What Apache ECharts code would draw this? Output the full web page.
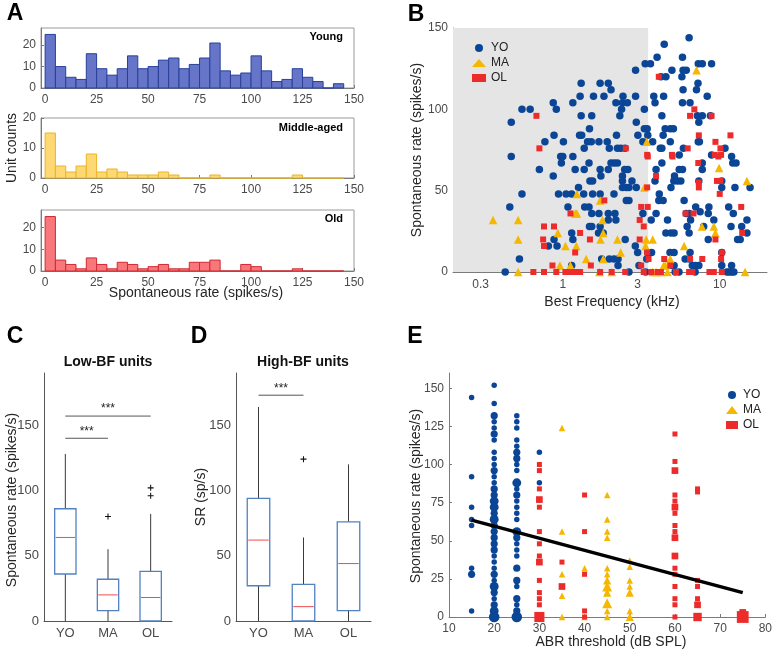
<!DOCTYPE html>
<html><head><meta charset="utf-8">
<script src="https://cdn.jsdelivr.net/npm/echarts@6/dist/echarts.min.js"></script>
<style>html,body{margin:0;padding:0;background:#fff}#c{width:775px;height:656px}</style>
</head><body><div id="c"></div>
<script>
// ---------------- DATA ----------------
// Panel A: histograms of spontaneous rate (5 spikes/s bins)
const binWidth = 5;
const binStarts = [0,5,10,15,20,25,30,35,40,45,50,55,60,65,70,75,80,85,90,95,100,105,110,115,120,125,130,135,140];
const youngCounts  = [25,10,5,4,16,9,6,9,15,9,10,13,14,9,11,14,21,8,6,7,15,8,3,4,9,5,3,0,2];
const middleCounts = [15,4,2,4,8,2,3,2,1,1,1,2,1,0,0,0,1,0,0,0,0,0,0,0,1,0,0,0,0];
const oldCounts    = [25,5,3,1,6,3,1,4,3,1,2,3,1,1,4,4,5,0,0,3,2,0,0,0,1,0,0,0,0];
const rateTicks = [0,25,50,75,100,125,150];

// Panel B: best frequency (kHz) vs spontaneous rate (spikes/s)
const bfTicks = [0.3,1,3,10];
const lowBFRange = [0.2, 3.5];
const bfYO = [[0.47,92],[0.55,100],[0.62,100],[0.87,104],[0.91,100],[0.77,80],[0.88,84],[1.01,80],[1.16,104],[1.29,108],[1.31,116],[1.31,96],[1.28,84],[1.32,84],[1.48,88],[1.44,80],[1.52,80],[1.37,76],[1.57,108],[1.53,96],[1.73,116],[1.83,108],[1.95,116],[2.03,112],[1.70,80],[1.92,80],[1.98,76],[2.18,104],[2.42,108],[2.40,104],[2.58,104],[2.37,100],[2.31,96],[2.20,84],[2.23,76],[2.34,76],[2.49,76],[2.91,124],[2.91,108],[2.94,92],[3.01,84],[3.31,100],[3.35,128],[3.31,88],[3.45,88],[3.24,80],[3.48,84],[3.62,128],[3.74,80],[3.99,132],[4.22,120],[3.80,108],[3.87,104],[4.43,140],[4.39,108],[4.28,96],[4.36,84],[4.49,88],[4.54,120],[4.96,124],[4.84,88],[5.07,88],[4.84,80],[4.18,76],[4.28,76],[5.52,72],[5.74,120],[5.79,132],[5.84,124],[6.12,124],[5.84,112],[5.79,104],[6.47,104],[6.38,144],[5.87,76],[7.30,128],[7.74,128],[7.11,112],[7.27,116],[7.20,96],[7.36,92],[7.74,96],[7.30,80],[7.42,80],[8.87,128],[8.32,108],[8.72,96],[8.87,72],[10.8,76],
[0.47,71],[0.71,63],[0.87,59],[0.97,71],[1.0,71],[0.98,67],[1.16,71],[1.2,63],[1.37,63],[1.47,67],[1.49,56],[1.55,56],[1.75,59],[1.73,63],[2.03,67],[2.13,67],[2.23,67],[1.95,63],[2.40,59],[2.48,63],[2.60,63],[2.40,56],[2.40,52],[2.54,52],[2.64,52],[2.76,56],[2.94,52],[2.54,44],[2.64,44],[1.26,52],[0.94,48],[1.05,48],[1.14,48],[1.36,48],[1.55,48],[1.73,48],[2.12,48],[0.55,48],[0.46,40],[1.08,40],[1.38,40],[1.47,40],[1.53,36],[1.70,36],[1.95,36],[2.15,36],[1.95,32],[2.18,32],[1.48,28],[1.53,28],[1.73,28],[1.14,24],[1.69,24],[1.81,24],[1.16,20],[0.88,20],[0.81,16],[0.92,16],[0.53,8],[0.43,0],[1.14,4],[1.77,8],[1.98,8],[2.12,8],[2.25,8],[2.25,4],[2.50,20],[2.90,16],[3.0,12],[3.06,4],[2.64,0],[3.37,0],[3.43,8],[3.48,12],[3.68,12],[3.66,32],[3.24,36],[3.87,56],[4.12,48],[4.09,44],[4.36,44],[3.93,63],[4.28,67],[3.93,36],[4.54,24],[4.65,32],[4.89,52],[5.1,56],[5.38,56],[5.65,56],[5.15,59],[5.52,63],[5.79,63],[4.89,24],[5.12,24],[4.82,12],[5.12,12],[4.96,4],[5.12,4],[5.5,0],[5.2,0],[5.93,44],[6.12,36],[6.38,36],[6.38,24],[6.2,28],[6.52,32],[6.02,8],[6.38,8],[6.47,12],[6.69,4],[7.0,4],[6.97,0],[7.36,4],[7.03,40],[7.5,37],[7.74,67],[7.74,63],[7.36,56],[7.9,28],[8.53,40],[8.45,36],[8.45,20],[9.17,32],[10.3,56],[10.3,52],[10.3,12],[10.3,4],[11.1,0],[11.5,0],[11.9,0],[12.3,0],[11.9,4],[11.4,40],[11.8,28],[12.1,67],[12.7,67],[12.5,52],[12.2,36],[13.0,20],[13.5,20],[13.8,28],[14.9,32],[14.9,24],[15.6,52],[11.9,71]];
const bfMA = [[7.11,124],[3.43,80],[0.36,32],[0.52,32],[0.52,20],[0.52,0],[0.93,24],[1.04,16],[0.96,4],[1.12,4],[1.23,48],[1.2,36],[1.23,36],[1.22,16],[1.41,8],[1.73,44],[1.79,32],[1.81,24],[1.74,20],[1.81,8],[1.71,0],[2.05,0],[2.23,20],[2.34,12],[3.31,52],[3.40,20],[3.74,20],[3.37,16],[3.74,0],[3.93,0],[4.22,0],[4.39,4],[4.5,4],[4.84,8],[4.65,0],[5.93,16],[7.7,28],[9.17,28],[9.39,24],[9.9,64],[14.5,0],[14.9,56]];
const bfOL = [[0.68,96],[0.71,76],[2.52,76],[3.45,72],[4.09,120],[4.96,72],[6.25,76],[6.89,100],[6.47,96],[7.36,84],[8.87,96],[9.39,80],[10.1,76],[11.7,84],[9.3,72],[10.2,72],
[0.76,28],[0.88,28],[0.75,20],[0.76,16],[0.65,0],[0.76,0],[0.86,4],[0.91,0],[1.04,0],[1.08,0],[1.14,0],[1.23,0],[1.29,0],[1.12,36],[1.2,12],[1.29,24],[1.49,20],[1.51,4],[1.73,0],[1.84,44],[2.05,0],[2.5,0],[3.09,20],[3.09,32],[3.16,40],[3.48,40],[3.28,28],[3.45,52],[3.48,71],[3.16,4],[3.28,0],[3.45,12],[3.52,8],[3.66,0],[4.02,0],[4.22,0],[3.93,59],[4.43,8],[4.84,4],[5.0,71],[5.26,0],[6.06,36],[6.81,36],[6.47,8],[6.38,0],[6.69,0],[7.36,52],[7.36,55],[7.30,67],[7.74,8],[8.6,0],[9.17,0],[9.39,20],[9.6,56],[10.1,56],[10.0,48],[10.3,12],[10.2,8],[10.3,0],[13.7,40],[13.9,24],[9.8,71]];

// Panels C, D: box plot statistics [min, Q1, median, Q3, max]
const groups = ['YO','MA','OL'];
const lowBFStats  = [[0,36,64,86,128],[0,8,20,32,55],[0,0,18,38,82]];
const lowBFOutliers = [[1,80],[2,96],[2,102]];
const lowBFSig = [[0,1,140],[0,2,157]];
const highBFStats = [[0,27,62,94,164],[0,0,11,28,64],[0,8,44,76,120]];
const highBFOutliers = [[1,124]];
const highBFSig = [[0,1,173]];
const srTicks = [0,50,100,150];

// Panel E: ABR threshold (dB SPL) vs spontaneous rate, [threshold, rate, n units]
const abrYO = [[15,144,1],[15,92,1],[15,72,1],[15,64,1],[15,60,1],[15,32,1],[15,28,2],[15,4,1],
[20,152,1],[20,140,1],[20,132,2],[20,128,1],[20,124,1],[20,120,2],[20,116,1],[20,108,1],[20,104,1],[20,100,1],[20,96,2],[20,92,1],[20,88,1],[20,84,2],[20,80,2],[20,76,3],[20,72,3],[20,68,2],[20,64,3],[20,60,2],[20,56,2],[20,52,2],[20,48,2],[20,44,2],[20,40,1],[20,36,1],[20,32,1],[20,28,2],[20,24,1],[20,20,3],[20,16,2],[20,12,1],[20,8,2],[20,4,3],[20,0,4],
[25,132,1],[25,128,1],[25,124,1],[25,116,1],[25,112,1],[25,108,2],[25,104,2],[25,100,1],[25,96,1],[25,88,3],[25,84,1],[25,80,2],[25,76,1],[25,72,1],[25,68,1],[25,64,1],[25,56,3],[25,52,2],[25,48,1],[25,44,1],[25,40,1],[25,32,2],[25,24,2],[25,20,1],[25,12,2],[25,8,1],[25,4,2],[25,0,4],
[30,108,1],[30,88,1]];
const abrMA = [[35,124,1],[35,56,1],[35,28,1],[35,14,1],[35,0,1],[40,32,1],[40,0,1],[45,80,1],[45,64,1],[45,56,1],[45,52,1],[45,32,1],[45,28,1],[45,24,2],[45,20,3],[45,16,2],[45,9,3],[45,4,1],[45,0,1],[50,37,1],[50,33,1],[50,24,1],[50,20,1],[50,16,2],[50,4,1],[50,0,2]];
const abrOL = [[30,100,1],[30,96,1],[30,84,1],[30,77,2],[30,72,1],[30,56,1],[30,48,1],[30,40,1],[30,36,2],[30,24,1],[30,16,1],[30,12,1],[30,8,1],[30,0,4],[35,36,1],[35,20,2],[40,80,1],[40,56,1],[40,28,1],[40,4,1],[40,0,1],[60,120,1],[60,102,1],[60,96,2],[60,80,1],[60,76,1],[60,72,2],[60,68,1],[60,60,1],[60,56,1],[60,52,2],[60,40,2],[60,32,1],[60,28,1],[60,20,1],[60,12,1],[60,8,1],[60,0,1],[65,84,1],[65,82,1],[65,24,1],[65,20,1],[65,12,1],[65,8,2],[65,0,3],[75,3,2],[75,0,5]];
const abrFit = [[15,63.5],[75,16]];
const abrTicks = [0,25,50,75,100,125,150];

// ---------------- STYLE ----------------
const FONT = '"Liberation Sans", Arial, Helvetica, sans-serif';
const TICK = '#4a4a4a', TITLE = '#262626';
const cYO = '#0b4596', cMA = '#f5b700', cOL = '#ee2b2b';

const chart = echarts.init(document.getElementById('c'));

function valAxis(gi, o) {
  return Object.assign({
    gridIndex: gi, type: 'value',
    axisLine: {show: true, onZero: false, lineStyle: {color: '#7a7a7a', width: 1}},
    axisTick: {show: true, inside: true, length: 3, lineStyle: {color: '#7a7a7a'}},
    axisLabel: {fontSize: 12, color: TICK, fontFamily: FONT, margin: 5},
    splitLine: {show: false}
  }, o);
}
function histSeries(gi, counts, fill, stroke) {
  return {
    type: 'custom', xAxisIndex: gi, yAxisIndex: gi, silent: true,
    data: binStarts.map((s, i) => [s, counts[i]]),
    renderItem(p, api) {
      const s = api.value(0), c = api.value(1);
      const a = api.coord([s, c]), b = api.coord([s + binWidth, 0]);
      return {type: 'rect', shape: {x: a[0], y: a[1], width: b[0] - a[0], height: b[1] - a[1]},
        style: {fill: fill, stroke: stroke, lineWidth: 1}};
    }
  };
}
function boxSeries(gi, stats) {
  return {
    type: 'custom', xAxisIndex: gi, yAxisIndex: gi, silent: true,
    data: stats.map((s, i) => [i].concat(s)),
    renderItem(p, api) {
      const i = api.value(0);
      const bw = api.size([1, 0])[0] * 0.5;
      const lo = api.coord([i, api.value(1)]), q1 = api.coord([i, api.value(2)]),
            md = api.coord([i, api.value(3)]), q3 = api.coord([i, api.value(4)]),
            hi = api.coord([i, api.value(5)]);
      const cx = lo[0];
      return {type: 'group', children: [
        {type: 'line', shape: {x1: cx, y1: lo[1], x2: cx, y2: q1[1]}, style: {stroke: '#3a3a3a', lineWidth: 1}},
        {type: 'line', shape: {x1: cx, y1: q3[1], x2: cx, y2: hi[1]}, style: {stroke: '#3a3a3a', lineWidth: 1}},
        {type: 'rect', shape: {x: cx - bw / 2, y: q3[1], width: bw, height: q1[1] - q3[1]},
          style: {fill: 'none', stroke: '#5281c2', lineWidth: 1.3}},
        {type: 'line', shape: {x1: cx - bw / 2 + 1, y1: md[1], x2: cx + bw / 2 - 1, y2: md[1]},
          style: {stroke: '#f04a4a', lineWidth: 1}}
      ]};
    }
  };
}
function sigSeries(gi, sig) {
  return {
    type: 'custom', xAxisIndex: gi, yAxisIndex: gi, silent: true, data: sig,
    renderItem(p, api) {
      const a = api.coord([api.value(0), api.value(2)]), b = api.coord([api.value(1), api.value(2)]);
      return {type: 'group', children: [
        {type: 'line', shape: {x1: a[0], y1: a[1], x2: b[0], y2: b[1]}, style: {stroke: '#555', lineWidth: 1}},
        {type: 'text', x: (a[0] + b[0]) / 2, y: a[1] - 1,
          style: {text: '***', align: 'center', verticalAlign: 'bottom', fontSize: 12, fill: '#222', fontFamily: FONT}}
      ]};
    }
  };
}
const plusPath = 'path://M3.3,0H4.7V8H3.3ZM0,3.3H8V4.7H0Z';
function outlierSeries(gi, pts) {
  return {type: 'scatter', xAxisIndex: gi, yAxisIndex: gi, silent: true, data: pts,
    symbol: plusPath, symbolSize: 6, itemStyle: {color: '#111', opacity: 1}};
}
function txt(x, y, text, o) {
  return {type: 'text', x: x, y: y, rotation: (o && o.rot) || 0,
    style: Object.assign({text: text, fontFamily: FONT, fontSize: 14, fill: TITLE,
      align: 'center', verticalAlign: 'middle'}, (o && o.style) || {})};
}
const letter = {fontSize: 23, fontWeight: 'bold', fill: '#000'};
const subLbl = {fontSize: 11, fontWeight: 'bold', fill: '#000', align: 'right'};

const gridA = {show: true, borderColor: '#9a9a9a', borderWidth: 1, backgroundColor: 'transparent'};
const sizeOf = v => 5.5 + (v[2] - 1) * 1.7;

const option = {
  animation: false,
  textStyle: {fontFamily: FONT},
  grid: [
    Object.assign({left: 41, top: 28, width: 313, height: 60}, gridA),
    Object.assign({left: 41, top: 118, width: 313, height: 60}, gridA),
    Object.assign({left: 41, top: 210, width: 313, height: 61}, gridA),
    {left: 453, top: 28, width: 314, height: 244},
    {left: 44, top: 373, width: 128, height: 248},
    {left: 236, top: 373, width: 135, height: 248},
    {left: 449, top: 373, width: 318, height: 244}
  ],
  xAxis: [
    valAxis(0, {min: -2, max: 150, axisTick: {inside: true, length: 3, customValues: rateTicks, lineStyle: {color: '#7a7a7a'}}, axisLabel: {customValues: rateTicks, fontSize: 12, color: TICK, fontFamily: FONT, margin: 6}}),
    valAxis(1, {min: -2, max: 150, axisTick: {inside: true, length: 3, customValues: rateTicks, lineStyle: {color: '#7a7a7a'}}, axisLabel: {customValues: rateTicks, fontSize: 12, color: TICK, fontFamily: FONT, margin: 6}}),
    valAxis(2, {min: -2, max: 150, axisTick: {inside: true, length: 3, customValues: rateTicks, lineStyle: {color: '#7a7a7a'}}, axisLabel: {customValues: rateTicks, fontSize: 12, color: TICK, fontFamily: FONT, margin: 6}}),
    valAxis(3, {type: 'log', logBase: 10, min: 0.2, max: 20,
      axisTick: {inside: true, length: 3, customValues: bfTicks, lineStyle: {color: '#7a7a7a'}},
      axisLabel: {customValues: bfTicks, fontSize: 12, color: TICK, fontFamily: FONT, margin: 7},
      minorTick: {show: false}}),
    {gridIndex: 4, type: 'category', data: groups, boundaryGap: true,
      axisLine: {show: true, lineStyle: {color: '#555'}}, axisTick: {show: false},
      axisLabel: {fontSize: 13, color: TICK, fontFamily: FONT, margin: 6}},
    {gridIndex: 5, type: 'category', data: groups, boundaryGap: true,
      axisLine: {show: true, lineStyle: {color: '#555'}}, axisTick: {show: false},
      axisLabel: {fontSize: 13, color: TICK, fontFamily: FONT, margin: 6}},
    valAxis(6, {min: 10, max: 80, interval: 10, axisLabel: {fontSize: 12, color: TICK, fontFamily: FONT, margin: 6}})
  ],
  yAxis: [
    valAxis(0, {min: 0, max: 28, axisTick: {inside: true, length: 3, customValues: [0,10,20], lineStyle: {color: '#7a7a7a'}}, axisLabel: {customValues: [0,10,20], fontSize: 12, color: TICK, fontFamily: FONT, margin: 5}}),
    valAxis(1, {min: 0, max: 20, interval: 10}),
    valAxis(2, {min: 0, max: 28, axisTick: {inside: true, length: 3, customValues: [0,10,20], lineStyle: {color: '#7a7a7a'}}, axisLabel: {customValues: [0,10,20], fontSize: 12, color: TICK, fontFamily: FONT, margin: 5}}),
    valAxis(3, {min: 0, max: 150, interval: 50}),
    valAxis(4, {min: 0, max: 190, axisLine: {show: true, lineStyle: {color: '#555'}},
      axisTick: {inside: true, length: 4, customValues: srTicks, lineStyle: {color: '#555'}},
      axisLabel: {customValues: srTicks, fontSize: 13, color: TICK, fontFamily: FONT, margin: 5}}),
    valAxis(5, {min: 0, max: 190, axisLine: {show: true, lineStyle: {color: '#555'}},
      axisTick: {inside: true, length: 4, customValues: srTicks, lineStyle: {color: '#555'}},
      axisLabel: {customValues: srTicks, fontSize: 13, color: TICK, fontFamily: FONT, margin: 5}}),
    valAxis(6, {min: 0, max: 160, axisTick: {inside: true, length: 3, customValues: abrTicks, lineStyle: {color: '#7a7a7a'}},
      axisLabel: {customValues: abrTicks, fontSize: 12, color: TICK, fontFamily: FONT, margin: 5}})
  ],
  legend: [
    {left: 467, top: 37, orient: 'vertical', itemGap: 3, itemWidth: 14, itemHeight: 8, selectedMode: false,
      data: ['YO','MA','OL'], textStyle: {fontSize: 12, color: '#222', fontFamily: FONT}},
    {left: 721, top: 384, orient: 'vertical', itemGap: 3, itemWidth: 12, itemHeight: 8, selectedMode: false,
      data: ['YO','MA','OL'], textStyle: {fontSize: 12, color: '#222', fontFamily: FONT}}
  ],
  series: [
    histSeries(0, youngCounts, '#6675c8', '#26409c'),
    histSeries(1, middleCounts, '#fdd873', '#eab52a'),
    histSeries(2, oldCounts, '#f7777a', '#d12a31'),
    {type: 'custom', xAxisIndex: 3, yAxisIndex: 3, silent: true, z: 1, data: [[lowBFRange[0], lowBFRange[1]]],
      renderItem(p, api) {
        const a = api.coord([api.value(0), 150]), b = api.coord([api.value(1), 0]);
        return {type: 'rect', shape: {x: a[0], y: a[1], width: b[0] - a[0], height: b[1] - a[1]}, style: {fill: '#e5e5e5'}};
      }},
    {name: 'YO', type: 'scatter', xAxisIndex: 3, yAxisIndex: 3, z: 3, data: bfYO, symbol: 'circle', symbolSize: 7.5, itemStyle: {color: cYO, opacity: 1}},
    {name: 'MA', type: 'scatter', xAxisIndex: 3, yAxisIndex: 3, z: 4, data: bfMA, symbol: 'triangle', symbolSize: 8.5, itemStyle: {color: cMA, opacity: 1}},
    {name: 'OL', type: 'scatter', xAxisIndex: 3, yAxisIndex: 3, z: 4, data: bfOL, symbol: 'rect', symbolSize: 6, itemStyle: {color: cOL, opacity: 1}},
    boxSeries(4, lowBFStats), outlierSeries(4, lowBFOutliers), sigSeries(4, lowBFSig),
    boxSeries(5, highBFStats), outlierSeries(5, highBFOutliers), sigSeries(5, highBFSig),
    {name: 'YO', type: 'scatter', xAxisIndex: 6, yAxisIndex: 6, data: abrYO, symbol: 'circle', symbolSize: sizeOf, itemStyle: {color: cYO, opacity: 1}},
    {name: 'MA', type: 'scatter', xAxisIndex: 6, yAxisIndex: 6, data: abrMA, symbol: 'triangle', symbolSize: v => sizeOf(v) + 1, itemStyle: {color: cMA, opacity: 1}},
    {name: 'OL', type: 'scatter', xAxisIndex: 6, yAxisIndex: 6, data: abrOL, symbol: 'rect', symbolSize: v => sizeOf(v) - 0.5, itemStyle: {color: cOL, opacity: 1}},
    {type: 'line', xAxisIndex: 6, yAxisIndex: 6, data: abrFit, symbol: 'none', silent: true, z: 5,
      lineStyle: {color: '#000', width: 3.5}}
  ],
  graphic: [
    txt(15, 14, 'A', {style: letter}), txt(416, 15, 'B', {style: letter}),
    txt(15, 337, 'C', {style: letter}), txt(199, 337, 'D', {style: letter}), txt(415, 337, 'E', {style: letter}),
    txt(343, 37, 'Young', {style: subLbl}), txt(343, 128, 'Middle-aged', {style: subLbl}), txt(343, 219, 'Old', {style: subLbl}),
    txt(196, 293, 'Spontaneous rate (spikes/s)'),
    txt(12, 148, 'Unit counts', {rot: Math.PI / 2}),
    txt(417, 150, 'Spontaneous rate (spikes/s)', {rot: Math.PI / 2}),
    txt(612, 302, 'Best Frequency (kHz)'),
    txt(108, 362, 'Low-BF units', {style: {fontWeight: 'bold', fill: '#111'}}),
    txt(303, 362, 'High-BF units', {style: {fontWeight: 'bold', fill: '#111'}}),
    txt(12, 500, 'Spontaneous rate (spikes/s)', {rot: Math.PI / 2}),
    txt(201, 497, 'SR (sp/s)', {rot: Math.PI / 2}),
    txt(416, 496, 'Spontaneous rate (spikes/s)', {rot: Math.PI / 2}),
    txt(611, 642, 'ABR threshold (dB SPL)')
  ]
};
chart.setOption(option);
</script>
</body></html>
